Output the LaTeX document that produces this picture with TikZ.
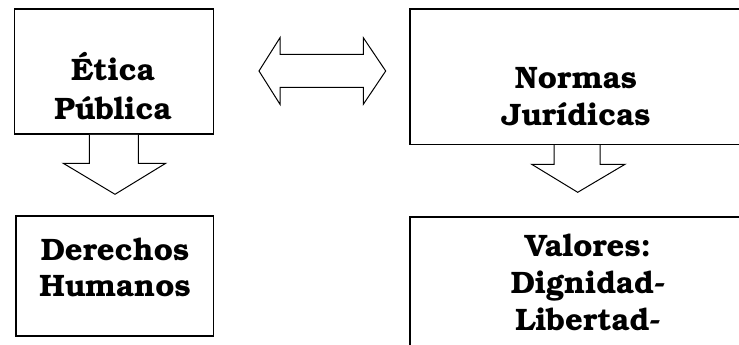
\documentclass[tikz,border=0pt]{standalone}
\usepackage[T1]{fontenc}
\usepackage{bookman}
\tikzset{
  box/.style={draw, line width=1.6pt, inner sep=0pt},
  lbl/.style={font=\fontsize{31}{36.7}\selectfont\bfseries, align=center, inner sep=0pt, anchor=base},
  blockarrow/.style={draw, line width=1pt, line join=miter, fill=white}
}
\begin{document}
\begin{tikzpicture}[x=1pt,y=-1pt]
\useasboundingbox (0,0) rectangle (739,345);
\clip (0,0) rectangle (739,345);
% boxes
\node[box, minimum width=199pt, minimum height=124.7pt] (eb) at (113.8,71.65) {};
\node[box, minimum width=350pt, minimum height=135pt] (nb) at (585,76.8) {};
\node[box, minimum width=197.6pt, minimum height=120pt] (db) at (114.5,275.7) {};
\node[box, minimum width=350pt, minimum height=150pt] (vb) at (585,291.7) {};
% texts
\node[lbl] (t1) at (113,81) {\'{E}tica};
\node[lbl] (t2) at (113,119.3) {P\'{u}blica};
\node[lbl] (t3) at (576,88.3) {Normas};
\node[lbl] (t4) at (576,125) {Jur\'{\i}dicas};
\node[lbl] (t5) at (115,260) {Derechos};
\node[lbl] (t6) at (115,296.7) {Humanos};
\node[lbl] (t7) at (588,256.7) {Valores:};
\node[lbl] (t8) at (588,293.4) {Dignidad-};
\node[lbl] (t9) at (588,330) {Libertad-};
% double arrow
\draw[blockarrow] (259,71) -- (280,37.7) -- (280,54.3) -- (363.3,54.3) -- (363.3,37.7)
  -- (385.7,71) -- (363.3,104.3) -- (363.3,87.3) -- (280,87.3) -- (280,104.3) -- cycle;
% down arrows
\draw[blockarrow] (89.3,134.8) -- (89.3,163.3) -- (63.3,163.3) -- (115,194.3)
  -- (165.7,163.3) -- (138.3,163.3) -- (138.3,134.8);
\draw[blockarrow] (554,145.1) -- (554,164.3) -- (531.7,164.3) -- (577.7,192.3)
  -- (625,164.3) -- (600,164.3) -- (600,145.1);
\end{tikzpicture}
\end{document}
